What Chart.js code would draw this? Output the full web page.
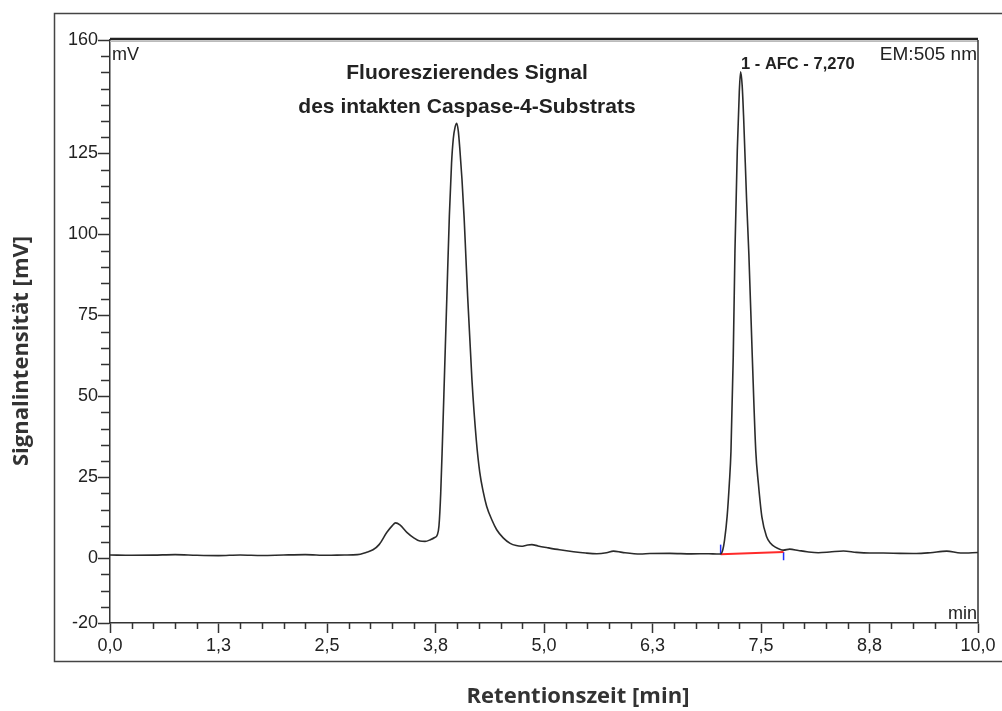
<!DOCTYPE html>
<html lang="de">
<head>
<meta charset="utf-8">
<title>Chromatogramm Caspase-4-Substrat</title>
<script src="https://cdn.jsdelivr.net/npm/chart.js@4/dist/chart.umd.min.js"></script>
<style>
  html, body { margin: 0; padding: 0; background: #fff; }
  canvas { display: block; }
</style>
</head>
<body>
<canvas id="chromChart" width="1002" height="711"></canvas>
<script>
// retention time [min] and detector signal [mV]
const retentionTimes = [
  0, 0.25, 0.5, 0.75, 1.0, 1.25, 1.5, 1.75, 2.0, 2.25, 2.5, 2.7, 2.85, 2.95,
  3.03, 3.1, 3.19, 3.25, 3.29, 3.34, 3.42, 3.5, 3.57, 3.63, 3.69, 3.74, 3.77,
  3.79, 3.81, 3.83, 3.855, 3.88, 3.91, 3.935, 3.955, 3.975, 3.994, 4.012, 4.03,
  4.055, 4.08, 4.1, 4.12, 4.17, 4.22, 4.26, 4.3, 4.34, 4.4, 4.455, 4.53, 4.61,
  4.68, 4.74, 4.8, 4.86, 4.93, 5.03, 5.18, 5.34, 5.48, 5.61, 5.72, 5.8, 5.9,
  6.11, 6.22, 6.45, 6.7, 6.9, 6.99, 7.035, 7.06, 7.08, 7.11, 7.135, 7.154,
  7.18, 7.2, 7.227, 7.25, 7.265, 7.283, 7.3, 7.335, 7.36, 7.4, 7.44, 7.47,
  7.51, 7.565, 7.61, 7.66, 7.76, 7.83, 7.93, 8.03, 8.16, 8.29, 8.45, 8.6,
  8.75, 8.91, 9.1, 9.29, 9.45, 9.64, 9.8, 10.0,
];
const signalMv = [
  1.0, 0.9, 0.95, 1.1, 0.9, 0.8, 1.0, 0.85, 1.0, 1.1, 0.9, 1.0, 1.1, 1.8,
  2.6, 4.2, 8.0, 10.0, 10.9, 10.3, 8.0, 6.3, 5.3, 5.2, 5.7, 6.4, 7.2,
  10, 20, 36, 58, 80, 106, 122, 129.5, 133, 134.3, 132, 126.5,
  117, 105, 93, 81, 55, 36.5, 26.5, 20.5, 16, 11.8, 8.8, 6.3, 4.6,
  3.9, 3.7, 4.0, 4.2, 3.8, 3.3, 2.6, 2.0, 1.6, 1.4, 1.7, 2.2, 1.8,
  1.3, 1.45, 1.5, 1.35, 1.4, 1.3, 1.3, 2.6, 5.6, 13, 23, 33,
  62, 95, 126, 144, 150.2, 146, 136, 110, 94, 62, 33, 23,
  12.8, 6.6, 4.6, 3.5, 2.5, 2.8, 2.4, 2.0, 1.7, 1.9, 2.25, 1.8,
  1.6, 1.6, 1.5, 1.45, 1.7, 2.2, 1.6, 1.75,
];

// integration of peak 1: baseline and start/end markers
const peakBaselineTimes = [7.035, 7.76];
const peakBaselineMv = [1.2, 1.95];
const peakStartMarkMv = [1.2, 4.2];
const peakEndMarkMv = [1.95, -0.6];

const peakTime = 7.27;
const peakHeight = 150.2;
const peakLabel = "1 - AFC - 7,270";

const xMajorTicks = [0, 1.25, 2.5, 3.75, 5, 6.25, 7.5, 8.75, 10];
const xTickLabels = ["0,0", "1,3", "2,5", "3,8", "5,0", "6,3", "7,5", "8,8", "10,0"];
const yMajorTicks = [-20, 0, 25, 50, 75, 100, 125, 160];
const yTickLabels = ["-20", "0", "25", "50", "75", "100", "125", "160"];
const xMinorStep = 0.25;
const yMinorStep = 5;

function toPoints(xs, ys) {
  return xs.map((x, i) => ({ x: x, y: ys[i] }));
}

// frame, minor ticks and all free text
const chromDecor = {
  id: "chromDecor",
  afterDraw(chart) {
    const { ctx, chartArea: area, scales } = chart;
    const xs = scales.x;
    const ys = scales.y;
    ctx.save();

    // outer frame
    ctx.strokeStyle = "#444";
    ctx.lineWidth = 1.5;
    ctx.beginPath();
    ctx.moveTo(1002, 13.5);
    ctx.lineTo(54.5, 13.5);
    ctx.lineTo(54.5, 661.5);
    ctx.lineTo(1002, 661.5);
    ctx.stroke();

    // top and right border of the plot box
    ctx.strokeStyle = "#222";
    ctx.lineWidth = 2.5;
    ctx.beginPath();
    ctx.moveTo(area.left, area.top - 1);
    ctx.lineTo(area.right, area.top - 1);
    ctx.stroke();
    ctx.strokeStyle = "#bbb";
    ctx.lineWidth = 1;
    ctx.beginPath();
    ctx.moveTo(area.left, area.top + 1.5);
    ctx.lineTo(area.right, area.top + 1.5);
    ctx.stroke();
    ctx.strokeStyle = "#333";
    ctx.lineWidth = 1.5;
    ctx.beginPath();
    ctx.moveTo(area.right, area.top);
    ctx.lineTo(area.right, area.bottom);
    ctx.stroke();

    // minor ticks
    ctx.strokeStyle = "#333";
    ctx.lineWidth = 1.5;
    ctx.beginPath();
    for (let v = xs.min; v <= xs.max + 1e-9; v += xMinorStep) {
      if (xMajorTicks.some((m) => Math.abs(m - v) < 1e-6)) continue;
      const px = Math.round(xs.getPixelForValue(v)) + 0.5;
      ctx.moveTo(px, area.bottom);
      ctx.lineTo(px, area.bottom + 6);
    }
    for (let v = ys.min; v <= ys.max + 1e-9; v += yMinorStep) {
      if (yMajorTicks.some((m) => Math.abs(m - v) < 1e-6)) continue;
      const py = Math.round(ys.getPixelForValue(v)) + 0.5;
      ctx.moveTo(area.left, py);
      ctx.lineTo(area.left - 9, py);
    }
    ctx.stroke();

    // units and detector setting inside the plot
    ctx.fillStyle = "#222";
    ctx.font = '18px "Liberation Sans", Arial, sans-serif';
    ctx.textBaseline = "alphabetic";
    ctx.textAlign = "left";
    ctx.fillText("mV", area.left + 2, 60);
    ctx.textAlign = "right";
    ctx.fillText("min", area.right - 1, 619);
    ctx.font = '19px "Liberation Sans", Arial, sans-serif';
    ctx.fillText("EM:505 nm", area.right - 1, 60);

    // description of the first peak
    ctx.font = 'bold 21px "Liberation Sans", Arial, sans-serif';
    ctx.textAlign = "center";
    ctx.fillText("Fluoreszierendes Signal", 467, 79);
    ctx.fillText("des intakten Caspase-4-Substrats", 467, 113);

    // peak label above the AFC peak
    ctx.font = 'bold 16.5px "Liberation Sans", Arial, sans-serif';
    ctx.textAlign = "left";
    ctx.fillText(peakLabel, xs.getPixelForValue(peakTime), ys.getPixelForValue(peakHeight) - 3);

    // axis titles
    ctx.fillStyle = "#333";
    ctx.font = 'bold 22px "Open Sans", sans-serif';
    ctx.textAlign = "center";
    ctx.textBaseline = "middle";
    ctx.fillText("Retentionszeit [min]", 578, 697);
    ctx.translate(22, 351);
    ctx.rotate(-Math.PI / 2);
    ctx.fillText("Signalintensität [mV]", 0, 0);

    ctx.restore();
  },
};

const tickFont = { family: '"Liberation Sans", Arial, sans-serif', size: 18 };

new Chart(document.getElementById("chromChart"), {
  type: "line",
  data: {
    datasets: [
      {
        label: "Signal",
        data: toPoints(retentionTimes, signalMv),
        borderColor: "#2b2b2b",
        borderWidth: 1.6,
        pointRadius: 0,
        cubicInterpolationMode: "monotone",
        fill: false,
      },
      {
        label: "Basislinie",
        data: toPoints(peakBaselineTimes, peakBaselineMv),
        borderColor: "#ff2a2a",
        borderWidth: 2,
        pointRadius: 0,
      },
      {
        label: "Start",
        data: toPoints([peakBaselineTimes[0], peakBaselineTimes[0]], peakStartMarkMv),
        borderColor: "#2030ff",
        borderWidth: 1.5,
        pointRadius: 0,
      },
      {
        label: "Ende",
        data: toPoints([peakBaselineTimes[1], peakBaselineTimes[1]], peakEndMarkMv),
        borderColor: "#2030ff",
        borderWidth: 1.5,
        pointRadius: 0,
      },
    ],
  },
  options: {
    responsive: false,
    devicePixelRatio: 1,
    animation: false,
    events: [],
    layout: { padding: { top: 40, right: 24, left: 0, bottom: 0 } },
    plugins: {
      legend: { display: false },
      tooltip: { enabled: false },
    },
    scales: {
      x: {
        type: "linear",
        min: 0,
        max: 10,
        afterBuildTicks: (scale) => {
          scale.ticks = xMajorTicks.map((v) => ({ value: v }));
        },
        afterFit: (scale) => {
          scale.height = 88;
        },
        ticks: {
          color: "#222",
          font: tickFont,
          padding: 2,
          maxRotation: 0,
          autoSkip: false,
          callback: (value, index) => xTickLabels[index],
        },
        grid: { drawOnChartArea: false, tickLength: 10, tickColor: "#333", tickWidth: 1.5 },
        border: { color: "#333", width: 1.5 },
      },
      y: {
        type: "linear",
        min: -20,
        max: 160,
        afterBuildTicks: (scale) => {
          scale.ticks = yMajorTicks.map((v) => ({ value: v }));
        },
        afterFit: (scale) => {
          scale.width = 110;
        },
        ticks: {
          color: "#222",
          font: tickFont,
          padding: 0,
          autoSkip: false,
          callback: (value, index) => yTickLabels[index],
        },
        grid: { drawOnChartArea: false, tickLength: 12, tickColor: "#333", tickWidth: 1.5 },
        border: { color: "#333", width: 1.5 },
      },
    },
  },
  plugins: [chromDecor],
});
</script>
</body>
</html>
